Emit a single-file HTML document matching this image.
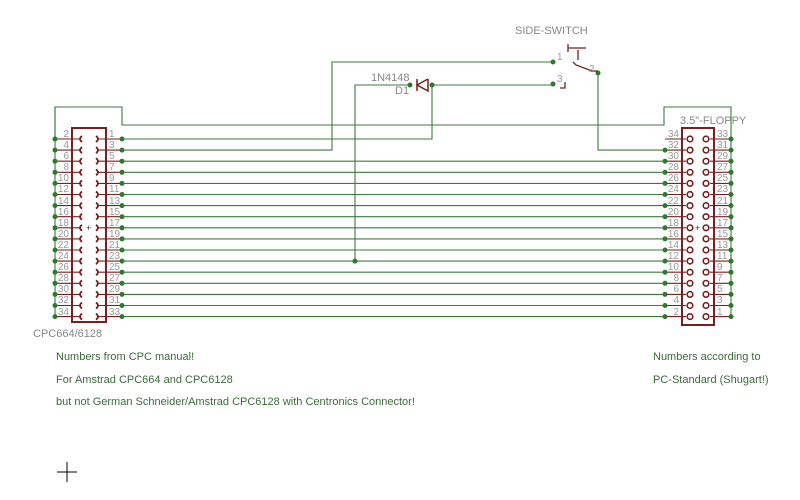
<!DOCTYPE html>
<html><head><meta charset="utf-8"><style>
html,body{margin:0;padding:0;background:#fff;}
svg{display:block;font-family:"Liberation Sans",sans-serif;}
.n{font-size:10px;fill:#999;}
.t{font-size:11px;fill:#3d6b3d;}
.g{font-size:11px;fill:#888;}
</style></head><body>
<svg id="s" width="800" height="500" xmlns="http://www.w3.org/2000/svg">
<g id="geo" fill="none" stroke="#3c7a3c" stroke-width="1.1"></g>
<g class="n" text-anchor="end">
<text x="69" y="137">2</text><text x="69" y="148">4</text><text x="69" y="159">6</text><text x="69" y="170">8</text><text x="69" y="181">10</text><text x="69" y="192">12</text><text x="69" y="204">14</text><text x="69" y="215">16</text><text x="69" y="226">18</text><text x="69" y="237">20</text><text x="69" y="248">22</text><text x="69" y="259">24</text><text x="69" y="270">26</text><text x="69" y="281">28</text><text x="69" y="292">30</text><text x="69" y="303">32</text><text x="69" y="315">34</text>
<text x="679" y="137">34</text><text x="679" y="148">32</text><text x="679" y="159">30</text><text x="679" y="170">28</text><text x="679" y="181">26</text><text x="679" y="192">24</text><text x="679" y="204">22</text><text x="679" y="215">20</text><text x="679" y="226">18</text><text x="679" y="237">16</text><text x="679" y="248">14</text><text x="679" y="259">12</text><text x="679" y="270">10</text><text x="679" y="281">8</text><text x="679" y="292">6</text><text x="679" y="303">4</text><text x="679" y="315">2</text>
</g>
<g class="n">
<text x="109" y="137">1</text><text x="109" y="148">3</text><text x="109" y="159">5</text><text x="109" y="170">7</text><text x="109" y="181">9</text><text x="109" y="192">11</text><text x="109" y="204">13</text><text x="109" y="215">15</text><text x="109" y="226">17</text><text x="109" y="237">19</text><text x="109" y="248">21</text><text x="109" y="259">23</text><text x="109" y="270">25</text><text x="109" y="281">27</text><text x="109" y="292">29</text><text x="109" y="303">31</text><text x="109" y="315">33</text>
<text x="717" y="137">33</text><text x="717" y="148">31</text><text x="717" y="159">29</text><text x="717" y="170">27</text><text x="717" y="181">25</text><text x="717" y="192">23</text><text x="717" y="204">21</text><text x="717" y="215">19</text><text x="717" y="226">17</text><text x="717" y="237">15</text><text x="717" y="248">13</text><text x="717" y="259">11</text><text x="717" y="270">9</text><text x="717" y="281">7</text><text x="717" y="292">5</text><text x="717" y="303">3</text><text x="717" y="315">1</text>
<text x="557" y="60">1</text><text x="557" y="82">3</text><text x="589" y="72">2</text>
</g>
<text class="g" x="33" y="337">CPC664/6128</text>
<text class="g" x="680" y="124">3.5"-FLOPPY</text>
<text class="g" x="515" y="34">SIDE-SWITCH</text>
<text class="g" x="371" y="81">1N4148</text>
<text class="g" x="395" y="94">D1</text>
<text class="t" x="56" y="360">Numbers from CPC manual!</text>
<text class="t" x="56" y="383">For Amstrad CPC664 and CPC6128</text>
<text class="t" x="56" y="405">but not German Schneider/Amstrad CPC6128 with Centronics Connector!</text>
<text class="t" x="653" y="360">Numbers according to</text>
<text class="t" x="653" y="383">PC-Standard (Shugart!)</text>
<path d="M67 462V482M57 472H77" stroke="#000" stroke-width="1"/>
<text x="86" y="231" font-size="9" fill="#333">+</text>
<text x="695" y="231" font-size="9" fill="#333">+</text>
</svg>
<script>
var g=document.getElementById('geo'),NS='http://www.w3.org/2000/svg';
function p(d,st,w,f){var e=document.createElementNS(NS,'path');e.setAttribute('d',d);if(st)e.setAttribute('stroke',st);if(w)e.setAttribute('stroke-width',w);if(f)e.setAttribute('fill',f);g.appendChild(e);}
function dot(x,y){var e=document.createElementNS(NS,'circle');e.setAttribute('cx',x);e.setAttribute('cy',y);e.setAttribute('r',2.5);e.setAttribute('fill','#2a7a2a');e.setAttribute('stroke','none');g.appendChild(e);}
var R='#7a1e1e';
function Y(i){return 139+11.1*i;}
p('M55 '+Y(0)+'V107H122V125H664V107H731V'+Y(16));
p('M55 107V'+Y(16));
for(var i=0;i<17;i++){var y=Y(i);
 p('M55 '+y+'H81',R);p('M97 '+y+'H122',R);
 p('M82 '+(y-3)+'q-4 3 0 6',R,1.8);p('M96 '+(y-3)+'q4 3 0 6',R,1.8);
 dot(55,y);dot(122,y);
 p('M665 '+y+'H686',R);p('M710 '+y+'H731',R);
 var c1=document.createElementNS(NS,'circle');c1.setAttribute('cx',690);c1.setAttribute('cy',y);c1.setAttribute('r',2.8);c1.setAttribute('stroke',R);c1.setAttribute('stroke-width',1.6);c1.setAttribute('fill','#fff');g.appendChild(c1);
 var c2=c1.cloneNode();c2.setAttribute('cx',706);g.appendChild(c2);
 dot(731,y); if(i>0)dot(665,y);
 if(i>=2)p('M122 '+y+'H665');
}
p('M72 128H106V322H72Z',R,2);
p('M682 128H714V325H682Z',R,2);
p('M122 '+Y(0)+'H432V85');
p('M122 '+Y(1)+'H332V62H553');
p('M598 73V'+Y(1)+'H665');
p('M410 85H355V'+Y(11));dot(355,Y(11));
p('M432 85H553');
dot(410,85);dot(432,85);dot(553,62);dot(553,84);dot(598,73);
p('M417 79V91M428 79V91L417 85L428 79',R,1.5);
p('M568 44V52M568 48H586M578 50V60M573 62l3 3L592 71H598',R,1.3);
p('M560 88H565V82',R,1.3);
</script>
</body></html>
